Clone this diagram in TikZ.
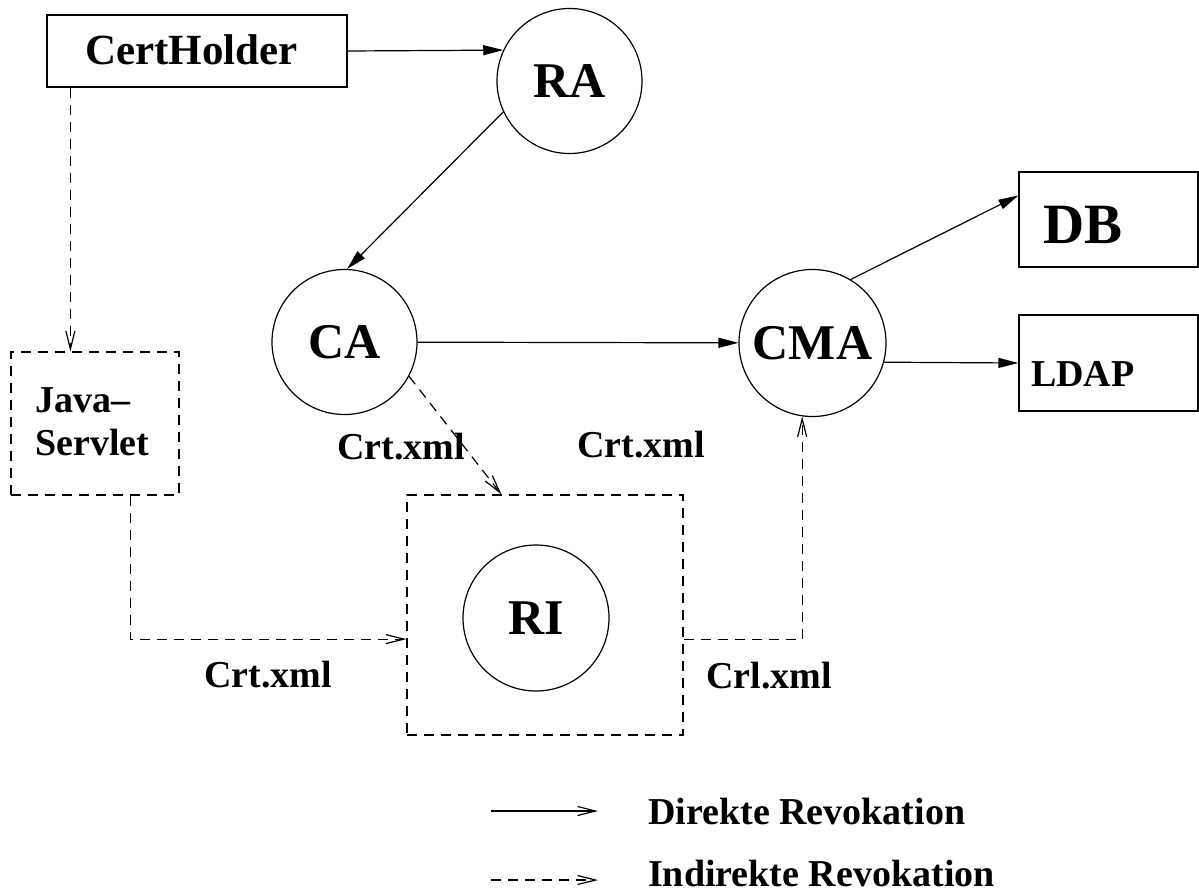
\documentclass[tikz,border=0pt]{standalone}
\usepackage{fontspec}
\setmainfont{Liberation Serif}
\usetikzlibrary{arrows.meta,calc}
\begin{document}
\begin{tikzpicture}[x=1pt,y=-1pt,
  unit/.style={draw, circle, line width=1.2pt, inner sep=0pt, minimum size=146pt,
    font=\fontsize{50}{55}\selectfont\bfseries},
  solidbox/.style={draw, rectangle, line width=1.2pt, inner sep=0pt},
  dashbox/.style={solidbox, dash pattern=on 10pt off 7pt},
  txt/.style={anchor=base west, inner sep=0pt, font=\fontsize{38}{43}\selectfont\bfseries},
  direct/.style={line width=1.2pt, -{Triangle[length=20pt,width=10pt]}},
  indirect/.style={line width=1.2pt, dash pattern=on 10pt off 7pt,
    -{Straight Barb[length=18pt,width=9pt]}},
  legsolid/.style={line width=1.2pt, -{Straight Barb[length=18pt,width=9pt]}},
]
\useasboundingbox (0,0) rectangle (1199,895);

% boxes
\node[solidbox, minimum width=300pt, minimum height=72pt] (ch) at (197,51) {};
\node[txt, font=\fontsize{43}{48}\selectfont\bfseries] (chtext) at (85,64) {CertHolder};
\node[dashbox, minimum width=168pt, minimum height=143pt] (js) at (95,423.5) {};
\node[txt] (jstext1) at (35,412) {Java--};
\node[txt] (jstext2) at (35,455) {Servlet};
\node[dashbox, minimum width=276pt, minimum height=240pt] (rib) at (545,615) {};
\node[solidbox, minimum width=179pt, minimum height=95pt] (db) at (1108.5,219.5) {};
\node[txt, font=\fontsize{57}{62}\selectfont\bfseries] (dbtext) at (1043,243) {DB};
\node[solidbox, minimum width=179pt, minimum height=96pt] (ldap) at (1108.5,363) {};
\node[txt] (ldaptext) at (1031,386) {LDAP};

% circles
\node[unit, minimum size=145pt] (ra) at (569.5,81) {RA};
\node[unit, minimum size=145pt] (ca) at (344.5,342) {CA};
\node[unit, minimum size=147pt] (cma) at (812.5,343) {CMA};
\node[unit] (ri) at (536,618) {RI};

% file labels
\node[txt] (lab1) at (337,459) {Crt.xml};
\node[txt] (lab2) at (577,457) {Crt.xml};
\node[txt] (lab3) at (204,687) {Crt.xml};
\node[txt] (lab4) at (706,688) {Crl.xml};

% direct revocation
\draw[direct] (ch.east) -- (ra.155.6);
\draw[direct] (ra.205.7) -- (ca.88);
\draw[direct] (ca) -- (cma);
\draw[direct] (cma.59) -- ($(db.north west)!0.25!(db.south west)$);
\draw[direct] (cma.-15.8) -- (ldap.west);

% indirect revocation
\draw[indirect] ($(ch.south west)+(24,0)$) -- ($(js.north west)+(60,0)$);
\draw[indirect] ($(js.south west)+(120,0)$) |- ($(rib.south west)!0.4!(rib.north west)$);
\draw[indirect] (ca.-28) -- ($(rib.north west)+(95,0)$);
\draw[indirect] ($(rib.south east)!0.4!(rib.north east)$) -| (cma.262.6);

% legend
\coordinate (l1a) at (491,811);
\coordinate (l1b) at (598,811);
\coordinate (l2a) at (491,880);
\coordinate (l2b) at (598,880);
\draw[legsolid] (l1a) -- (l1b);
\draw[indirect] (l2a) -- (l2b);
\node[txt] (leg1) at (648,824) {Direkte Revokation};
\node[txt] (leg2) at (648,886) {Indirekte Revokation};
\end{tikzpicture}
\end{document}
